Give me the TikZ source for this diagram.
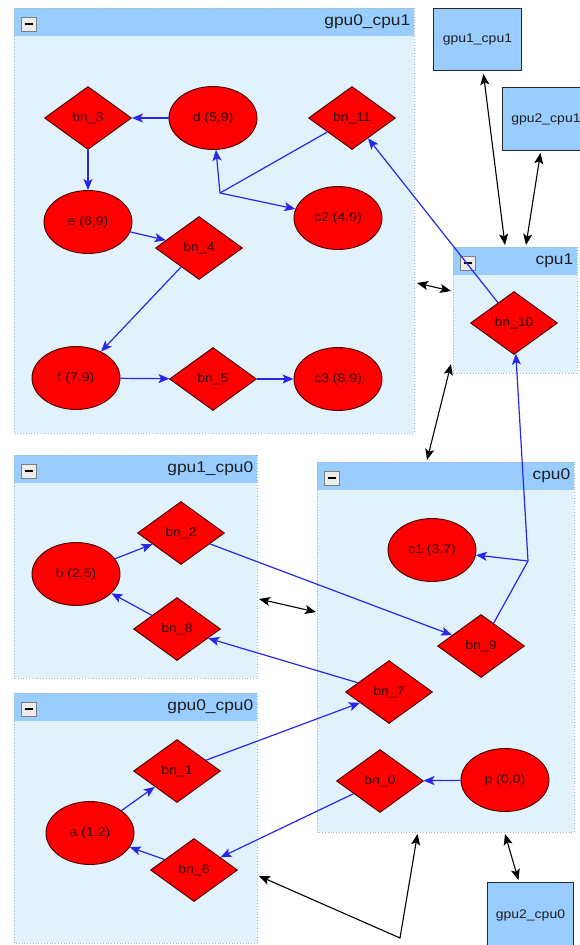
\documentclass[tikz,border=0pt]{standalone}
\usepackage{fontspec}
\newfontfamily\lblfont[FakeStretch=1.12]{Liberation Sans}
\usetikzlibrary{shapes.geometric,arrows.meta,calc}

\definecolor{grpfill}{RGB}{225,242,253}
\definecolor{hdrfill}{RGB}{153,204,255}
\definecolor{grpline}{RGB}{165,180,195}
\definecolor{opred}{RGB}{255,0,0}
\definecolor{opline}{RGB}{70,0,0}
\definecolor{optext}{RGB}{50,0,0}
\definecolor{flow}{RGB}{40,40,230}
\definecolor{btnfill}{RGB}{236,236,236}
\definecolor{btnline}{RGB}{125,125,125}
\definecolor{titletext}{RGB}{30,30,30}
\definecolor{boxline}{RGB}{40,40,40}

\tikzset{
  opnode/.style={draw=opline, fill=opred, line width=0.9pt, inner sep=0pt,
    font=\lblfont\fontsize{12.5}{14}\selectfont, text=optext},
  valnode/.style={opnode, ellipse, minimum width=88pt, minimum height=63pt},
  bnnode/.style={opnode, diamond, minimum width=87pt, minimum height=63pt},
  grpbody/.style={fill=grpfill, inner sep=0pt, outer sep=0pt},
  grphead/.style={fill=hdrfill, inner sep=0pt, outer sep=0pt, minimum height=28pt},
  grpedge/.style={draw=grpline, dotted, line width=0.8pt},
  grptitle/.style={font=\lblfont\fontsize{15.5}{18}\selectfont, text=titletext, inner sep=0pt},
  grpbtn/.style={draw=btnline, fill=btnfill, line width=0.7pt, minimum width=15pt, minimum height=14pt, inner sep=0pt},
  devbox/.style={draw=boxline, fill=hdrfill, line width=0.9pt, inner sep=0pt,
    font=\lblfont\fontsize{12.5}{14}\selectfont, text=titletext},
  flowline/.style={draw=flow, line width=1.2pt},
  flowarrow/.style={flowline, -{Stealth[length=11pt,width=9pt,inset=2.5pt]}},
  linkarrow/.style={draw=black, line width=1.1pt,
    {Stealth[length=11pt,width=9pt,inset=2.5pt]}-{Stealth[length=11pt,width=9pt,inset=2.5pt]}},
}

% a collapsible group: name, left, top, width, height, title
\newcommand\mkgroup[6]{%
  \node[grpbody, anchor=north west, minimum width=#4pt, minimum height=#5pt] (#1) at (#2,#3) {};
  \node[grphead, anchor=north west, minimum width=#4pt] (#1h) at (#2,#3) {};
  \draw[grpedge] (#1.north west) rectangle (#1.south east);
  \node[grptitle, anchor=east] (#1t) at ([xshift=-3.5pt]#1h.east) {#6};
  \node[grpbtn] (#1b) at ([xshift=14.5pt,yshift=-2pt]#1h.west) {};
  \draw[line width=2.2pt] ([xshift=-4pt]#1b.center) -- ([xshift=4pt]#1b.center);
}

\begin{document}
\begin{tikzpicture}[x=1pt, y=-1pt]
\useasboundingbox (0,0) rectangle (580,945);
\clip (0,0) rectangle (580,945);
\fill[white] (0,0) rectangle (580,945);

% groups
\mkgroup{gpucpuA}{14}{8}{400}{425}{gpu0\_cpu1}
\mkgroup{cpuB}{453}{247}{124}{126}{cpu1}
\mkgroup{gpucpuC}{14}{455}{243}{223}{gpu1\_cpu0}
\mkgroup{cpuD}{317}{462}{257}{370}{cpu0}
\mkgroup{gpucpuE}{14}{693}{243}{250}{gpu0\_cpu0}

% standalone devices
\node[devbox, anchor=north west, minimum width=88pt, minimum height=62pt] (dev11) at (433,8) {gpu1\_cpu1};
\node[devbox, anchor=north west, minimum width=87pt, minimum height=63pt] (dev21) at (502,87) {gpu2\_cpu1};
\node[devbox, anchor=north west, minimum width=86pt, minimum height=66pt] (dev20) at (487,882) {gpu2\_cpu0};

% operations in gpu0_cpu1
\node[bnnode]  (bn3)  at (88,118)  {bn\_3};
\node[valnode] (d)    at (213,118) {d (5,9)};
\node[bnnode]  (bn11) at (352,118) {bn\_11};
\node[valnode] (e)    at (88,222)  {e (6,9)};
\node[bnnode]  (bn4)  at (199,248) {bn\_4};
\node[valnode] (c2)   at (338,218) {c2 (4,9)};
\node[valnode] (f)    at (76,378)  {f (7,9)};
\node[bnnode]  (bn5)  at (213,379) {bn\_5};
\node[valnode] (c3)   at (338,379) {c3 (8,9)};

% cpu1
\node[bnnode]  (bn10) at (514,323) {bn\_10};

% gpu1_cpu0
\node[valnode] (b)    at (76,574)  {b (2,5)};
\node[bnnode]  (bn2)  at (181,533) {bn\_2};
\node[bnnode]  (bn8)  at (177,629) {bn\_8};

% cpu0
\node[valnode] (c1)   at (432,550) {c1 (3,7)};
\node[bnnode]  (bn9)  at (481,646) {bn\_9};
\node[bnnode]  (bn7)  at (389,692) {bn\_7};
\node[bnnode]  (bn0)  at (380,781) {bn\_0};
\node[valnode] (p)    at (505,780) {p (0,0)};

% gpu0_cpu0
\node[bnnode]  (bn1)  at (177,771) {bn\_1};
\node[valnode] (a)    at (90,833)  {a (1,2)};
\node[bnnode]  (bn6)  at (194,870) {bn\_6};

% data flow
\coordinate (splitA) at (220,193);
\coordinate (splitB) at (528,561);
\draw[flowarrow] (d) -- (bn3);
\draw[flowarrow] (bn3) -- (e);
\draw[flowarrow] (e) -- (bn4);
\draw[flowarrow] (bn4) -- (f);
\draw[flowarrow] (f) -- (bn5);
\draw[flowarrow] (bn5) -- (c3);
\draw[flowline] (bn11) -- (splitA);
\draw[flowarrow] (splitA) -- (d);
\draw[flowarrow] (splitA) -- (c2);
\draw[flowarrow] (bn10) -- (bn11);
\draw[flowline] (bn9) -- (splitB);
\draw[flowarrow] (splitB) -- (c1);
\draw[flowarrow] (splitB) -- (bn10);
\draw[flowarrow] (bn2) -- (bn9);
\draw[flowarrow] (bn7) -- (bn8);
\draw[flowarrow] (b) -- (bn2);
\draw[flowarrow] (bn8) -- (b);
\draw[flowarrow] (bn1) -- (bn7);
\draw[flowarrow] (a) -- (bn1);
\draw[flowarrow] (bn6) -- (a);
\draw[flowarrow] (bn0) -- (bn6);
\draw[flowarrow] (p) -- (bn0);

% device links
\coordinate (bendE) at (400,938);
\draw[linkarrow] ($(dev11.south)+(6,3)$) -- ($(cpuB.north)+(-10,-2)$);
\draw[linkarrow] ($(dev21.south)+(-5.5,2)$) -- ($(cpuB.north)+(11,-2)$);
\draw[linkarrow] ($(gpucpuA.north east)+(3,275)$) -- ($(cpuB.north west)+(-2,44)$);
\draw[linkarrow] ($(cpuB.south west)+(-2,-9)$) -- ($(cpuD.north)+(-18.5,-2)$);
\draw[linkarrow] ($(gpucpuC.north east)+(2,144)$) -- ($(cpuD.north west)+(-1,150)$);
\draw[linkarrow] ($(gpucpuE.north east)+(2,183)$) -- (bendE) -- ($(cpuD.south)+(-28,2)$);
\draw[linkarrow] ($(cpuD.south)+(59.5,2)$) -- ($(dev20.north)+(-12,-2)$);
\end{tikzpicture}
\end{document}
